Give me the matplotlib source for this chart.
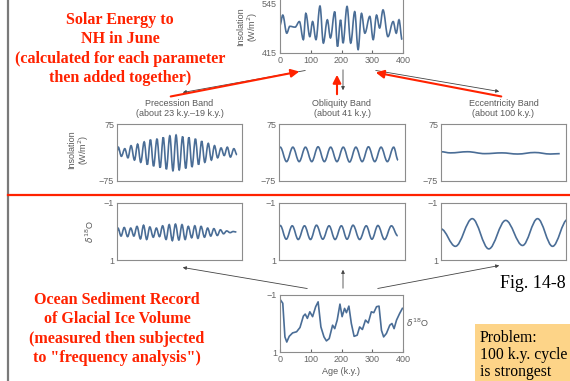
import matplotlib
matplotlib.use('Agg')
import matplotlib.pyplot as plt
from matplotlib.path import Path
from matplotlib.patches import PathPatch, Rectangle

W, H = 570, 381

# --- data (age in k.y.) ---
# NH June insolation (W/m2), turning points
ins_age = [0, 9, 22, 32, 49, 63, 76, 84, 97, 106, 117, 130, 141, 154, 164, 178, 187, 197, 205, 218,
           230, 243, 254, 265, 276, 292, 303, 314, 324, 335, 351, 368, 378, 387, 397]
ins_val = [480, 503, 461, 477, 475, 488, 446, 507, 453, 488, 446, 524, 438, 492, 450, 511, 430, 492, 438, 523,
           438, 511, 423, 507, 461, 500, 446, 503, 473, 515, 453, 488, 461, 492, 446]

# insolation bands (W/m2), turning points
prec_age = [0, 4, 14, 25, 35, 45, 56, 66, 76, 87, 97, 107, 117, 128, 138, 148, 158, 169, 179, 189,
            199, 210, 220, 230, 240, 251, 261, 271, 281, 292, 302, 312, 322, 333, 343, 353, 363, 374, 384]
prec_val = [2, 14, -10, 10, -14, 18, -20, 22, -26, 28, -32, 34, -36, 36, -40, 40, -44, 44, -48, 46,
            -46, 42, -42, 40, -38, 36, -32, 30, -26, 24, -20, 18, -14, 12, -8, 14, -12, 10, -6]
obl_age = [0, 4, 24, 44, 64, 84, 104, 124, 144, 164, 184, 204, 224, 244, 264, 284, 304, 324, 344, 364, 378]
obl_val = [12, 14, -24, 14, -24, 14, -24, 15, -24, 14, -24, 14, -25, 14, -24, 15, -24, 14, -24, 14, -20]
ecc_age = [0, 30, 85, 140, 195, 245, 300, 350, 380]
ecc_val = [2, -1, 2, -3, -1, -4, 0, -4, -3]

# d18O bands, turning points
dprec_age = [0, 3, 13, 23, 34, 44, 54, 64, 75, 85, 95, 105, 116, 126, 136, 146, 157, 167, 177, 187,
             198, 208, 218, 228, 239, 249, 259, 269, 280, 290, 300, 310, 321, 331, 341, 351, 362, 372, 382]
dprec_val = [0.0, -0.12, 0.16, -0.14, 0.18, -0.12, 0.16, -0.18, 0.26, -0.22, 0.28, -0.16, 0.2, -0.12, 0.18,
             -0.2, 0.28, -0.24, 0.32, -0.26, 0.3, -0.24, 0.28, -0.18, 0.22, -0.2, 0.24, -0.18, 0.2, -0.12,
             0.16, -0.1, 0.14, -0.06, 0.08, -0.02, 0.04, 0.0, 0.02]
dobl_age = [0, 4, 23, 42, 61, 81, 100, 119, 139, 159, 178, 198, 216, 235, 256, 277, 295, 314, 335, 357, 377]
dobl_val = [-0.18, -0.21, 0.27, -0.2, 0.28, -0.2, 0.28, -0.22, 0.27, -0.2, 0.28, -0.2, 0.27, -0.22, 0.28,
            -0.2, 0.27, -0.21, 0.28, -0.2, 0.15]
decc_age = [0, 46, 100, 153, 207, 261, 309, 357, 405]
decc_val = [-0.09, 0.52, -0.45, 0.61, -0.39, 0.49, -0.45, 0.52, -0.42]

# ocean sediment d18O record
rec_age = [2, 9, 16, 22, 30, 41, 54, 65, 76, 82, 89, 97, 106, 116, 124, 133, 143, 151, 160, 171,
           178, 186, 195, 202, 210, 216, 224, 232, 241, 251, 259, 268, 278, 287, 297, 305, 314, 322,
           330, 337, 346, 357, 364, 371, 379, 389, 398]
rec_val = [-0.82, -0.71, 0.47, 0.65, 0.45, 0.33, 0.29, 0.14, -0.26, -0.33, -0.18, -0.41, -0.24, -0.59,
           -0.76, 0.12, 0.47, 0.61, 0.53, 0.06, 0.18, -0.12, -0.68, -0.24, -0.53, -0.38, -0.61, 0.0,
           0.45, 0.41, 0.12, 0.21, -0.12, -0.02, -0.41, -0.38, -0.59, -0.61, 0.24, 0.47, 0.35, 0.06,
           0.0, 0.18, -0.12, -0.35, -0.53]

ages = [0, 100, 200, 300, 400]
band_titles = ['Precession Band\n(about 23 k.y.\u201319 k.y.)', 'Obliquity Band\n(about 41 k.y.)',
               'Eccentricity Band\n(about 100 k.y.)']

LINE = '#4a6d96'
RED = '#ff2200'
GREY = '#5a5a5a'
TS = 6.5  # small label size
plt.rcParams['font.family'] = ['Liberation Sans', 'DejaVu Sans']

fig = plt.figure(figsize=(W / 100, H / 100), dpi=100)


def panel(x0, y0, x1, y1):
    ax = fig.add_axes([x0 / W, 1 - y1 / H, (x1 - x0) / W, (y1 - y0) / H])
    ax.set_xlim(0, 400)
    for s in ax.spines.values():
        s.set_color('#8c8c8c')
        s.set_linewidth(0.8)
    ax.tick_params(colors='#666666', labelsize=TS, length=0, pad=2)
    ax.set_xticks([])
    return ax


def smooth(ax, xs, ys):
    # bezier through the turning points, flat at each one
    verts = [(xs[0], ys[0])]
    codes = [Path.MOVETO]
    for i in range(1, len(xs)):
        d = (xs[i] - xs[i - 1]) * 0.36
        verts += [(xs[i - 1] + d, ys[i - 1]), (xs[i] - d, ys[i]), (xs[i], ys[i])]
        codes += [Path.CURVE4] * 3
    ax.add_patch(PathPatch(Path(verts, codes), fill=False, edgecolor=LINE, lw=1.2))


# top: insolation
ax = panel(280, -3, 403, 53)
ax.set_ylim(415, 545)
ax.set_yticks([415])
smooth(ax, ins_age, ins_val)
ax.set_xticks(ages)
ax.tick_params(axis='x', direction='in', length=2, colors='#666666')

# middle row: insolation bands
cols = [(117, 242), (279, 405), (441, 566)]
bands = [(prec_age, prec_val), (obl_age, obl_val), (ecc_age, ecc_val)]
for (x0, x1), (xa, ya), t in zip(cols, bands, band_titles):
    ax = panel(x0, 124, x1, 181)
    ax.set_ylim(-75, 75)
    ax.set_yticks([75, -75])
    ax.set_yticklabels(['75', '\u221275'])
    smooth(ax, xa, ya)
    fig.text((x0 + x1) / 2 / W, 1 - 108.5 / H, t, ha='center', va='center', fontsize=TS,
             color=GREY, linespacing=1.05)

# lower row: d18O bands
dbands = [(dprec_age, dprec_val), (dobl_age, dobl_val), (decc_age, decc_val)]
for (x0, x1), (xa, ya) in zip(cols, dbands):
    ax = panel(x0, 203, x1, 260)
    ax.set_ylim(1, -1)
    ax.set_yticks([-1, 1])
    ax.set_yticklabels(['\u22121', '1'])
    smooth(ax, xa, ya)

# bottom: sediment record
ax = panel(280, 295, 403, 352)
ax.set_ylim(1, -1)
ax.set_yticks([-1, 1])
ax.set_yticklabels(['\u22121', '1'])
ax.plot(rec_age, rec_val, color=LINE, lw=1.2)
ax.set_xticks(ages)
ax.tick_params(axis='x', direction='in', length=2, colors='#666666')
ax.set_xlabel('Age (k.y.)', fontsize=TS, color=GREY, labelpad=2)

# overlay in pixel coordinates
ov = fig.add_axes([0, 0, 1, 1])
ov.set_xlim(0, W)
ov.set_ylim(H, 0)
ov.axis('off')

ov.plot([8, 8], [0, H], color='#7a7a7a', lw=1.6)
ov.plot([8, W], [195, 195], color=RED, lw=1.6)
ov.text(277, 0, '545', ha='right', va='top', fontsize=TS, color='#666666')

gray = dict(arrowstyle='-|>', color='#444444', lw=0.6, mutation_scale=5)
redarr = dict(arrowstyle='-|>', color=RED, lw=1.5, mutation_scale=12)
for a, b in [((308, 70), (180, 93)), ((343, 67), (343, 93)), ((373, 70), (502, 92)),
             ((310, 289), (180, 267)), ((343, 291), (343, 267)), ((375, 289), (502, 265))]:
    ov.annotate('', xy=b, xytext=a, arrowprops=gray)
for a, b in [((168, 97), (302, 71)), ((337, 97), (337, 72)), ((504, 97), (373, 72))]:
    ov.annotate('', xy=b, xytext=a, arrowprops=redarr)

serif = ['Liberation Serif', 'DejaVu Serif']
for i, s in enumerate(['Solar Energy to', 'NH in June', '(calculated for each parameter',
                       'then added together)']):
    ov.text(120, 20 + 19.3 * i, s, ha='center', va='center', color=RED, fontsize=11.6,
            fontweight='bold', family=serif)
for i, s in enumerate(['Ocean Sediment Record', 'of Glacial Ice Volume', '(measured then subjected',
                       'to "frequency analysis")']):
    ov.text(117, 300 + 19.3 * i, s, ha='center', va='center', color=RED, fontsize=11.6,
            fontweight='bold', family=serif)

ov.text(248, 27, 'Insolation\n(W/m$^2$)', rotation=90, ha='center', va='center', fontsize=TS,
        color=GREY, linespacing=1.05)
ov.text(79, 150, 'Insolation\n(W/m$^2$)', rotation=90, ha='center', va='center', fontsize=TS,
        color=GREY, linespacing=1.05)
ov.text(90, 232, '$\\delta^{18}$O', rotation=90, ha='center', va='center', fontsize=TS,
        color=GREY)
ov.text(406, 323, '$\\delta^{18}$O', ha='left', va='center', fontsize=TS, color=GREY)

ov.text(500, 284, 'Fig. 14-8', ha='left', va='center', fontsize=13, family=serif, color='black')

ov.add_patch(Rectangle((475, 324), 100, 60, facecolor='#fdd488', edgecolor='none'))
for i, s in enumerate(['Problem:', '100 k.y. cycle', 'is strongest']):
    ov.text(480, 338 + 17 * i, s, ha='left', va='center', fontsize=11.3, family=serif,
            color='black')

fig.savefig('out.png', dpi=100)
